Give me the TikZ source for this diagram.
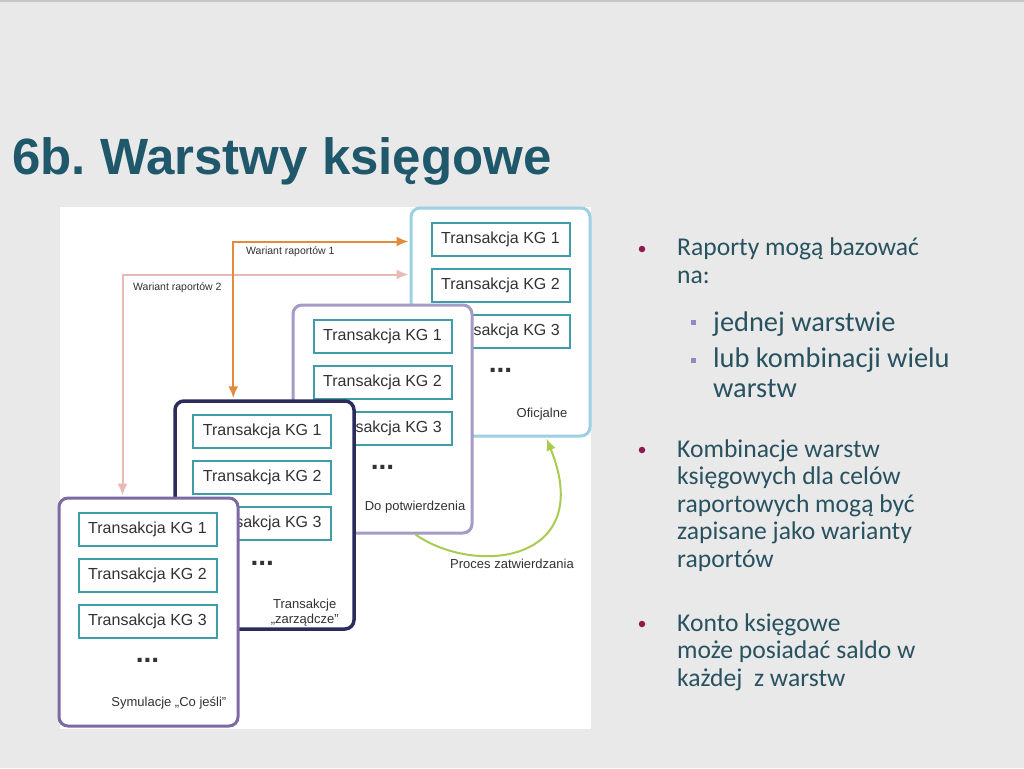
\documentclass[tikz,border=0pt]{standalone}
\usepackage{fontspec}
\setmainfont{Liberation Sans}
\newfontfamily\bodyfont{Carlito}
\usepackage{tikz}
\definecolor{slidebg}{RGB}{233,233,233}
\definecolor{titlecol}{RGB}{31,87,107}
\definecolor{bodycol}{RGB}{40,82,96}
\definecolor{bulletcol}{RGB}{140,26,78}
\definecolor{subbulletcol}{RGB}{140,140,192}
\definecolor{boxtext}{RGB}{50,50,50}
\definecolor{kgborder}{RGB}{62,157,168}
\definecolor{ofcol}{RGB}{158,208,228}
\definecolor{dpcol}{RGB}{165,155,198}
\definecolor{zzcol}{RGB}{43,43,92}
\definecolor{smcol}{RGB}{124,107,163}
\definecolor{orangearrow}{RGB}{227,139,61}
\definecolor{pinkarrow}{RGB}{233,185,181}
\definecolor{greenarrow}{RGB}{169,203,82}
\tikzset{
    kglayer/.style={draw, rectangle, rounded corners=9pt, fill=white, line width=3pt, minimum width=179pt, minimum height=228pt, inner sep=0pt},
    kg/.style={draw=kgborder, line width=2pt, fill=white, minimum width=138pt, minimum height=33pt, inner sep=0pt, text=boxtext, font=\fontsize{16}{19}\selectfont},
    kgdots/.style={inner sep=0pt, text=boxtext, font=\fontsize{28}{28}\selectfont\bfseries},
    layername/.style={inner sep=0pt, text=boxtext, align=center, font=\fontsize{13}{15.5}\selectfont},
    varlabel/.style={inner sep=0pt, text=boxtext, font=\fontsize{10.5}{12}\selectfont},
    varone/.style = {{Latex[length=12pt,width=10pt]}-{Latex[length=12pt,width=10pt]}, line width=2pt, draw=orangearrow},
    vartwo/.style = {{Latex[length=12pt,width=10pt]}-{Latex[length=12pt,width=10pt]}, line width=2pt, draw=pinkarrow},
    approve/.style = {-{Latex[length=12pt,width=10pt]}, line width=2pt, draw=greenarrow},
    bulletdot/.style={circle, fill=bulletcol, inner sep=0pt, minimum size=6.5pt},
    subsquare/.style={rectangle, fill=subbulletcol, inner sep=0pt, minimum size=5pt},
    bulletitem/.style={inner sep=0pt, anchor=base west, align=left, text=bodycol, font=\bodyfont\fontsize{25.6}{27.4}\selectfont},
    subitem/.style={inner sep=0pt, anchor=base west, align=left, text=bodycol, font=\bodyfont\fontsize{28.4}{29.5}\selectfont} }
\usetikzlibrary{calc, positioning, arrows.meta}

\begin{document}
\begin{tikzpicture}[x=1pt, y=-1pt]
			\useasboundingbox[fill=slidebg] (0,0) rectangle (1024,768);
			\fill[gray!45] (0,0) rectangle (1024,2);
			\node[anchor=base west, inner sep=0pt, text=titlecol, font=\fontsize{51}{51}\selectfont\bfseries] (title) at (12,174) {6b.\ Warstwy księgowe};
			\fill[white] (60,207) rectangle (591,729);
			% ---- layers, back to front
			\node[kglayer, draw=ofcol] (of) at (500.5,322) {};
			\node[kg, below right=15pt and 21pt of of.north west] (of1) {Transakcja KG 1};
			\node[kg, below=11pt of of1] (of2) {Transakcja KG 2};
			\node[kg, below=11pt of of2] (of3) {Transakcja KG 3};
			\node[kgdots, below=20pt of of3] (ofdots) {...};
			\node[layername, anchor=base east] (ofname) at ($(of.south east)+(-24,-20)$) {Oficjalne};

			\node[kglayer, draw=dpcol] (dp) at (382.5,419) {};
			\node[kg, below right=15pt and 21pt of dp.north west] (dp1) {Transakcja KG 1};
			\node[kg, below=11pt of dp1] (dp2) {Transakcja KG 2};
			\node[kg, below=11pt of dp2] (dp3) {Transakcja KG 3};
			\node[kgdots, below=20pt of dp3] (dpdots) {...};
			\node[layername, anchor=base east] (dpname) at ($(dp.south east)+(-8,-24)$) {Do potwierdzenia};

			\node[kglayer, draw=zzcol, line width=3.5pt] (zz) at (264.5,515) {};
			\node[kg, below right=15pt and 19pt of zz.north west] (zz1) {Transakcja KG 1};
			\node[kg, below=11pt of zz1] (zz2) {Transakcja KG 2};
			\node[kg, below=11pt of zz2] (zz3) {Transakcja KG 3};
			\node[kgdots, below=20pt of zz3] (zzdots) {...};
			\node[layername, anchor=base] (zzname) at ($(zz.south east)+(-51,-7)$) {Transakcje\\„zarządcze”};

			\node[kglayer, draw=smcol] (sm) at (148.5,612) {};
			\node[kg, below right=15pt and 20pt of sm.north west] (sm1) {Transakcja KG 1};
			\node[kg, below=11pt of sm1] (sm2) {Transakcja KG 2};
			\node[kg, below=11pt of sm2] (sm3) {Transakcja KG 3};
			\node[kgdots, below=20pt of sm3] (smdots) {...};
			\node[layername, anchor=base east] (smname) at ($(sm.south east)+(-13,-21)$) {Symulacje „Co jeśli”};
			% ---- report variants
			\draw[vartwo] ($(sm.north west)+(65,-1)$) |- ($(of.north west)+(-1,68)$);
			\draw[varone] ($(zz.north west)+(60,-1)$) |- ($(of.north west)+(-1,35)$);
			\node[varlabel, anchor=west] (var1) at (246,252) {Wariant raportów 1};
			\node[varlabel, anchor=west] (var2) at (133,288) {Wariant raportów 2};
			% ---- approval
			\draw[approve] ($(dp.south east)+(-58,0)$) .. controls +(60,42) and +(50,124) .. ($(of.south west)+(137,1)$);
			\node[layername] (proc) at (512,564) {Proces zatwierdzania};
			% ---- notes
			\node[bulletdot] (d1) at (642,249) {};
			\node[bulletitem] (t1) at (677,283) {Raporty mogą bazować\\na:};
			\node[subsquare] (s1) at (693,322) {};
			\node[subitem] (u1) at (713,331) {jednej warstwie};
			\node[subsquare] (s2) at (693,360) {};
			\node[subitem] (u2) at (713,397) {lub kombinacji wielu\\warstw};
			\node[bulletdot] (d2) at (642,450) {};
			\node[bulletitem] (t2) at (677,567) {Kombinacje warstw\\księgowych dla celów\\raportowych mogą być\\zapisane jako warianty\\raportów};
			\node[bulletdot] (d3) at (642,624) {};
			\node[bulletitem] (t3) at (677,686) {Konto księgowe\\może posiadać saldo w\\każdej~ z warstw};
\end{tikzpicture}
\end{document}
